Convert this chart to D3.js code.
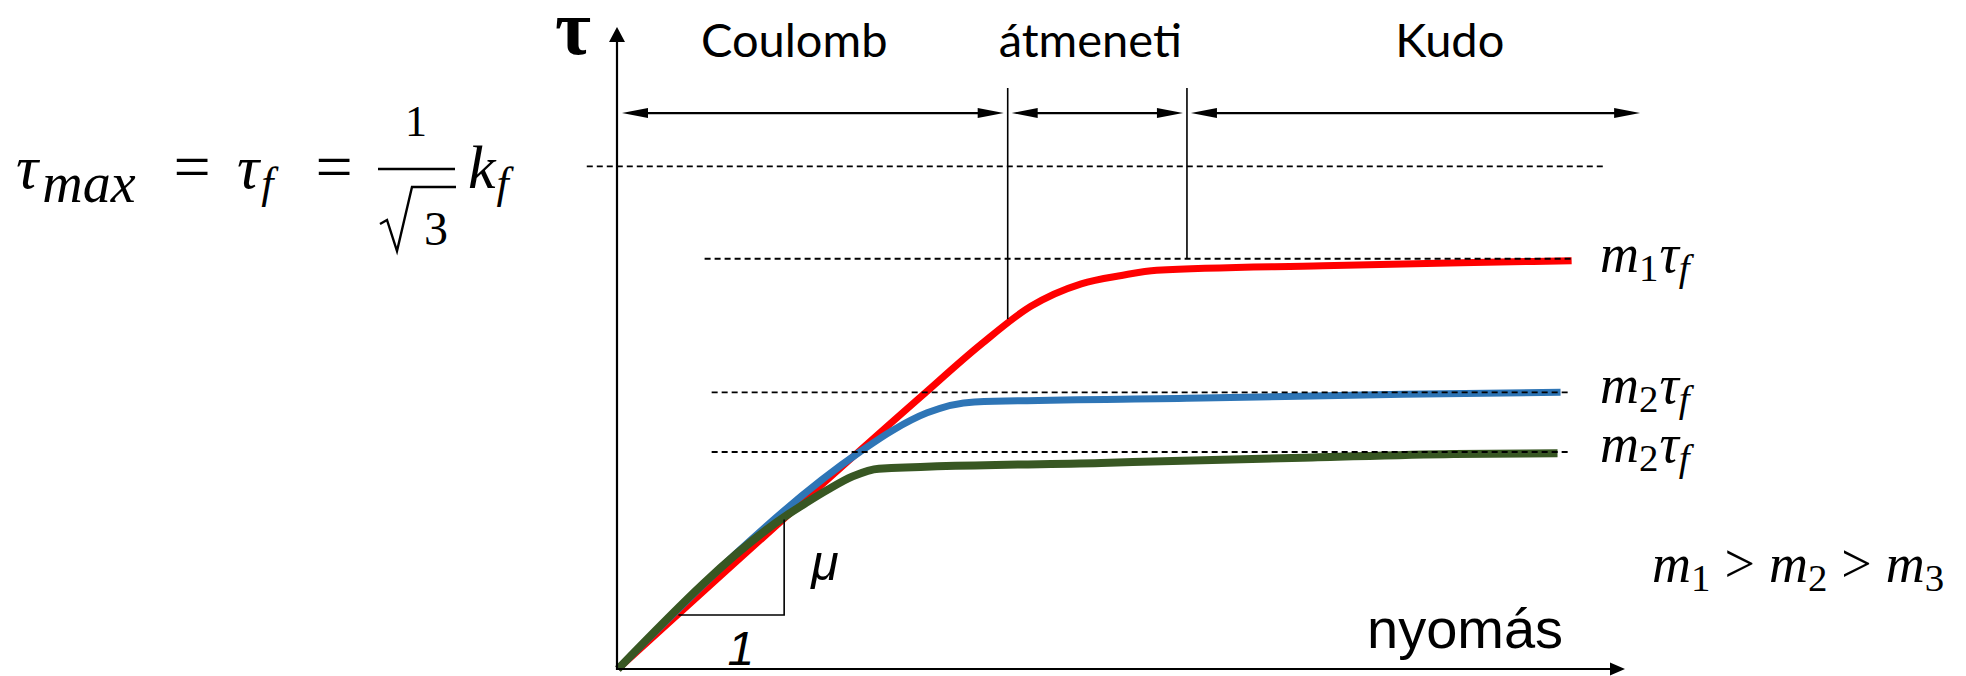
<!DOCTYPE html>
<html lang="hu">
<head>
<meta charset="utf-8">
<title>Súrlódási tartományok</title>
<script src="https://cdn.jsdelivr.net/npm/d3@7/dist/d3.min.js"></script>
<style>
  html, body { margin: 0; padding: 0; background: #fff; }
  svg { display: block; }
</style>
</head>
<body>
<svg id="chart" width="1966" height="676"></svg>
<script>
// Shear stress (τ) against contact pressure for three friction factors, m1 > m2 > m3.
// Values are in relative units on both axes (0–100).
const redCurve   = [[0, 0], [30, 42.3], [36, 50.5], [41, 56.5], [46, 60], [50, 61.3], [53.5, 62.1], [70, 62.8], [85, 63.3], [94.7, 63.6]];
const blueCurve  = [[0, 0], [24, 33.8], [27.3, 37.2], [30.7, 39.9], [35.4, 41.6], [58, 42.2], [78, 42.8], [93.6, 43.1]];
const greenCurve = [[0, 0], [17, 24.2], [18.6, 25.8], [20.8, 27.9], [23.3, 30.0], [25.9, 31.2], [48, 32.1], [68, 32.9], [83, 33.5], [93.3, 33.6]];

const tauFLevel = 78.3;                       // τ_f = k_f / √3
const plateauLevels = [63.9, 43.1, 33.8];     // plateau of each curve
const plateauLabels = [["m", "1"], ["m", "2"], ["m", "2"]];

const regionNames  = ["Coulomb", "átmeneti", "Kudo"];
const regionBounds = [0, 38.7, 56.5, 101.5];
const regionLabelAt = [17.5, 46.9, 82.6];
const regionTickEnds = [54.5, 63.9];          // lower ends of the two boundary markers
const slopeTriangle = [[6, 8.4], [16.5, 8.4], [16.5, 23.3]];

const curves = [
  { data: redCurve,   color: "#ff0000", width: 7 },
  { data: blueCurve,  color: "#2e75b6", width: 7 },
  { data: greenCurve, color: "#385723", width: 8 }
];

const svg = d3.select("#chart");
const x = d3.scaleLinear().domain([0, 100]).range([618, 1625]);
const y = d3.scaleLinear().domain([0, 100]).range([669, 27]);

const serif = "'Liberation Serif', 'Times New Roman', serif";
const sans = "'Liberation Sans', Arial, sans-serif";
const black = "#000";

// filled arrow head with its tip at (tx, ty); (dx, dy) = unit direction of travel
function arrowHead(tx, ty, dx, dy, len, half) {
  const bx = tx - dx * len, by = ty - dy * len;
  const p = d3.path();
  p.moveTo(tx, ty);
  p.lineTo(bx - dy * half, by + dx * half);
  p.lineTo(bx + dy * half, by - dx * half);
  p.closePath();
  svg.append("path").attr("d", p.toString()).attr("fill", black);
}

// ---- curves ----
const line = d3.line().x(d => x(d[0])).y(d => y(d[1])).curve(d3.curveMonotoneX);
svg.append("g").selectAll("path").data(curves).join("path")
  .attr("d", d => line(d.data))
  .attr("fill", "none")
  .attr("stroke", d => d.color)
  .attr("stroke-width", d => d.width)
  .attr("stroke-linejoin", "round")
  .attr("stroke-linecap", "butt");

// ---- axes ----
svg.append("line").attr("x1", x(0) - 1).attr("y1", y(0)).attr("x2", x(100) - 12).attr("y2", y(0))
  .attr("stroke", black).attr("stroke-width", 2.2);
arrowHead(x(100), y(0), 1, 0, 15, 6.5);
svg.append("line").attr("x1", x(0) - 1).attr("y1", y(0) + 1).attr("x2", x(0) - 1).attr("y2", y(100) + 12)
  .attr("stroke", black).attr("stroke-width", 2.2);
arrowHead(x(0) - 1, y(100), 0, -1, 15, 8);

// ---- dashed reference levels ----
const dashed = svg.append("g").attr("stroke", black).attr("stroke-width", 1.8).attr("stroke-dasharray", "6,4");
dashed.append("line").attr("x1", x(-3.1)).attr("x2", x(97.8)).attr("y1", y(tauFLevel)).attr("y2", y(tauFLevel));
dashed.selectAll("line.level").data(plateauLevels).join("line").attr("class", "level")
  .attr("x1", (d, i) => x(i === 0 ? 8.6 : 9.3)).attr("x2", x(94.6))
  .attr("y1", d => y(d)).attr("y2", d => y(d));

// ---- regime arrows and boundary markers ----
const rowY = y(86.6);
const gap = 4;
regionNames.forEach((name, i) => {
  const a = x(regionBounds[i]) + gap, b = x(regionBounds[i + 1]) - (i === 2 ? 0 : gap);
  svg.append("line").attr("x1", a + 20).attr("x2", b - 20).attr("y1", rowY).attr("y2", rowY)
    .attr("stroke", black).attr("stroke-width", 2.2);
  arrowHead(a, rowY, -1, 0, 26, 5);
  arrowHead(b, rowY, 1, 0, 26, 5);
});
svg.append("g").selectAll("text").data(regionNames).join("text")
  .attr("x", (d, i) => x(regionLabelAt[i])).attr("y", 57)
  .attr("text-anchor", "middle")
  .attr("font-family", "Lato, 'Open Sans', sans-serif").attr("font-size", 47)
  .text(d => d);
regionTickEnds.forEach((end, i) => {
  svg.append("line").attr("x1", x(regionBounds[i + 1])).attr("x2", x(regionBounds[i + 1]))
    .attr("y1", y(90.5)).attr("y2", y(end)).attr("stroke", black).attr("stroke-width", 1.6);
});

// ---- slope triangle ----
svg.append("path")
  .attr("d", d3.line().x(d => x(d[0])).y(d => y(d[1]))(slopeTriangle))
  .attr("fill", "none").attr("stroke", black).attr("stroke-width", 1.6);
svg.append("text").attr("x", x(12.2)).attr("y", 665).attr("text-anchor", "middle")
  .attr("font-family", sans).attr("font-style", "italic").attr("font-size", 48)
  .text("1");
svg.append("text").attr("x", x(19.2)).attr("y", 580)
  .attr("font-family", sans).attr("font-style", "italic").attr("font-size", 50)
  .text("μ");

// ---- axis titles ----
svg.append("text").attr("x", 573).attr("y", 54).attr("text-anchor", "middle")
  .attr("font-family", serif).attr("font-weight", "bold").attr("font-size", 78).text("τ");
svg.append("text").attr("x", 1367).attr("y", 648)
  .attr("font-family", sans).attr("font-size", 56).text("nyomás");

// ---- math labels ----
// each part: { t: text, it: italic?, sub: subscript?, dx, size, dy }
function mathText(px, py, size, parts, anchor) {
  const t = svg.append("text").attr("x", px).attr("y", py)
    .attr("font-family", serif).attr("font-size", size)
    .attr("text-anchor", anchor || "start");
  let shift = 0;
  parts.forEach(p => {
    const target = p.dy !== undefined ? p.dy : (p.sub ? Math.round(size * 0.17) : 0);
    const ts = t.append("tspan").text(p.t)
      .attr("font-style", p.it ? "italic" : "normal")
      .attr("font-size", p.size || (p.sub ? size * 0.72 : size))
      .attr("dy", target - shift);
    if (p.dx) ts.attr("dx", p.dx);
    shift = target;
  });
  return t;
}

const labelBaselines = [272, 403, 462];
plateauLevels.forEach((lv, i) => {
  mathText(1600, labelBaselines[i], 54, [
    { t: plateauLabels[i][0], it: true },
    { t: plateauLabels[i][1], sub: true },
    { t: "τ", it: true, dx: 1 },
    { t: "f", it: true, sub: true }
  ]);
});
mathText(1652, 582, 54, [
  { t: "m", it: true }, { t: "1", sub: true },
  { t: ">", dx: 14 },
  { t: "m", it: true, dx: 14 }, { t: "2", sub: true },
  { t: ">", dx: 14 },
  { t: "m", it: true, dx: 14 }, { t: "3", sub: true }
]);

// τ_max = τ_f = (1/√3)·k_f
const base = 188;
mathText(16, base, 62, [{ t: "τ", it: true }, { t: "max", it: true, size: 56, dy: 14, dx: 4 }]);
mathText(192, base + 1, 66, [{ t: "=" }], "middle");
mathText(237, base, 62, [{ t: "τ", it: true }, { t: "f", it: true, size: 44, dy: 10, dx: 2 }]);
mathText(334, base + 1, 66, [{ t: "=" }], "middle");
svg.append("line").attr("x1", 378).attr("x2", 455).attr("y1", 169).attr("y2", 169)
  .attr("stroke", black).attr("stroke-width", 2.6);
mathText(416, 136, 44, [{ t: "1" }], "middle");
const rad = d3.path();
rad.moveTo(380, 224); rad.lineTo(387, 220); rad.lineTo(397, 251); rad.lineTo(412, 187); rad.lineTo(456, 187);
svg.append("path").attr("d", rad.toString()).attr("fill", "none").attr("stroke", black)
  .attr("stroke-width", 2.4).attr("stroke-linejoin", "miter");
mathText(436, 245, 48, [{ t: "3" }], "middle");
mathText(468, base, 62, [{ t: "k", it: true }, { t: "f", it: true, size: 44, dy: 10, dx: 1 }]);
</script>
</body>
</html>
